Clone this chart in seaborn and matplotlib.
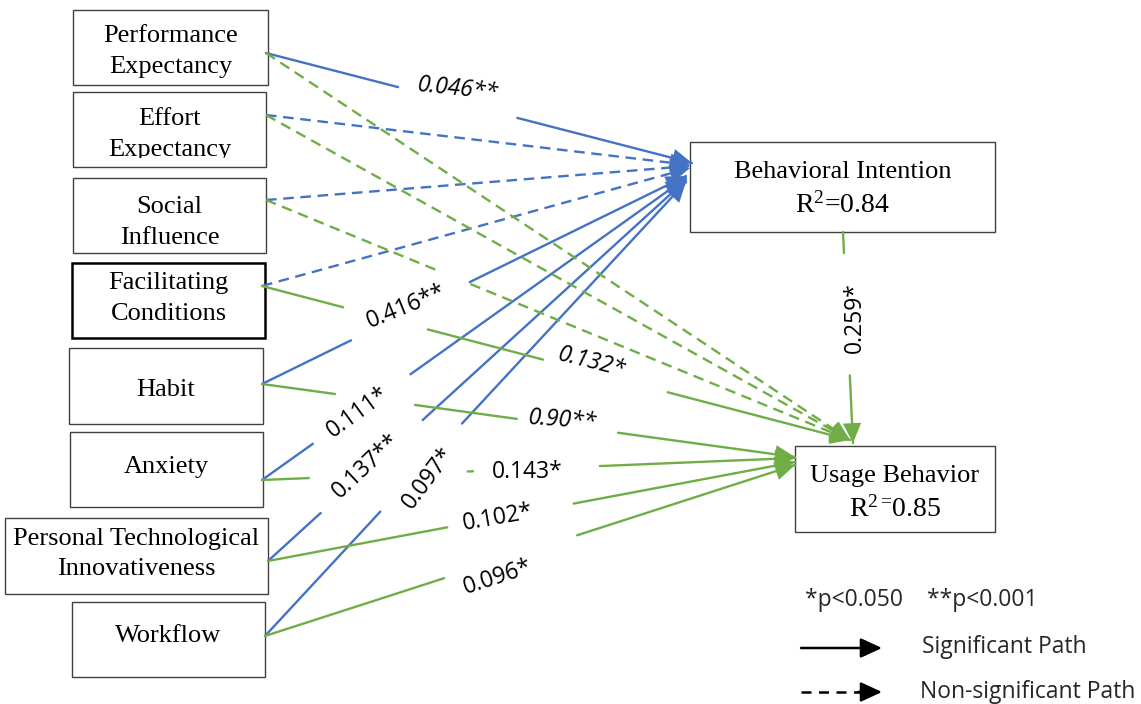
import numpy as np
import pandas as pd
import matplotlib.pyplot as plt
import seaborn as sns
from matplotlib.patches import Rectangle

sns.set_theme(style="white")
plt.rcParams['font.family'] = ['Open Sans', 'DejaVu Sans']
plt.rcParams['mathtext.fontset'] = 'custom'
plt.rcParams['mathtext.rm'] = 'Liberation Serif'
plt.rcParams['mathtext.it'] = 'Liberation Serif:italic'

# ---- model data ----
predictors = ['PE', 'EE', 'SI', 'FC', 'HB', 'AX', 'PTI', 'WF']
predictor_names = ['Performance\nExpectancy', 'Effort\nExpectancy', 'Social\nInfluence',
                   'Facilitating\nConditions', 'Habit', 'Anxiety',
                   'Personal Technological\nInnovativeness', 'Workflow']
bi_coef = ['0.046**', None, None, None, '0.416**', '0.111*', '0.137**', '0.097*']
bi_significant = [True, False, False, False, True, True, True, True]
ub_coef = [None, None, None, '0.132*', '0.90**', '0.143*', '0.102*', '0.096*']
ub_significant = [False, False, False, True, True, True, True, True]
bi_to_ub_coef = '0.259*'
r2_bi = '0.84'
r2_ub = '0.85'

BLUE = '#4472C4'
GREEN = '#70AD47'

# ---- layout (pixel space) ----
boxes = {'PE': (73, 10, 268, 85), 'EE': (73, 92, 266, 167), 'SI': (73, 178, 266, 253),
         'FC': (72, 263, 265, 338), 'HB': (69, 348, 263, 424), 'AX': (70, 432, 263, 507),
         'PTI': (5, 518, 268, 594), 'WF': (72, 602, 265, 677),
         'BI': (690, 142, 995, 232), 'UB': (795, 446, 995, 532)}
text_shift = {'PE': 4, 'EE': 5, 'SI': 7, 'FC': -2, 'HB': 4, 'AX': -3, 'PTI': -2, 'WF': -4}
ports = {'PE': (266, 53), 'EE': (266, 115), 'SI': (266, 200), 'FC': (262, 286),
         'HB': (262, 384), 'AX': (262, 480), 'PTI': (268, 561), 'WF': (265, 636),
         'BI': (843, 232)}
bi_tips = {'PE': (692, 163), 'EE': (690, 165), 'SI': (690, 166), 'FC': (690, 168),
           'HB': (686, 176), 'AX': (686, 178), 'PTI': (686, 180), 'WF': (686, 182)}
ub_tips = {'PE': (850, 440), 'EE': (850, 440), 'SI': (850, 440), 'FC': (850, 440),
           'HB': (795, 457), 'AX': (795, 458), 'PTI': (795, 462), 'WF': (795, 465),
           'BI': (853, 443)}
gaps = {('PE', 'BI'): [(0.31, 0.59)], ('HB', 'BI'): [(0.21, 0.49)],
        ('AX', 'BI'): [(0.12, 0.35)], ('PTI', 'BI'): [(0.126, 0.37)],
        ('WF', 'BI'): [(0.274, 0.468)],
        ('SI', 'UB'): [(0.30, 0.35)],
        ('FC', 'UB'): [(0.138, 0.282), (0.478, 0.69)],
        ('HB', 'UB'): [(0.137, 0.287), (0.478, 0.668)],
        ('AX', 'UB'): [(0.088, 0.386), (0.396, 0.634)],
        ('PTI', 'UB'): [(0.34, 0.58)], ('WF', 'UB'): [(0.338, 0.589)],
        ('BI', 'UB'): [(0.10, 0.68)]}
label_pos = {('PE', 'BI'): (458, 89, -6, True), ('HB', 'BI'): (406, 307, 22, False),
             ('AX', 'BI'): (358, 412, 36, False), ('PTI', 'BI'): (366, 466, 43, False),
             ('WF', 'BI'): (428, 478, 53, False),
             ('FC', 'UB'): (591, 362, -14, True), ('HB', 'UB'): (562, 420, -4, True),
             ('AX', 'UB'): (527, 472, 0, False), ('PTI', 'UB'): (498, 518, 10, False),
             ('WF', 'UB'): (498, 577, 18, False), ('BI', 'UB'): (855, 318, 90, False)}

# ---- build edges ----
edges = []
for k, c, s in zip(predictors, bi_coef, bi_significant):
    edges.append((k, 'BI', c, s, bi_tips[k]))
for k, c, s in zip(predictors, ub_coef, ub_significant):
    edges.append((k, 'UB', c, s, ub_tips[k]))
edges.append(('BI', 'UB', bi_to_ub_coef, True, ub_tips['BI']))

rows = []
seg_id = 0
for src, tgt, coef, sig, tip in edges:
    p0 = np.array(ports[src], float)
    p1 = np.array(tip, float)
    cuts = [0.0]
    for a, b in gaps.get((src, tgt), []):
        cuts += [a, b]
    cuts.append(1.0)
    for a, b in zip(cuts[::2], cuts[1::2]):
        for t in (a, b):
            x, y = p0 + t * (p1 - p0)
            rows.append({'seg': seg_id, 'x': x, 'y': y, 'target': tgt,
                         'path': 'sig' if sig else 'ns'})
        seg_id += 1
df = pd.DataFrame(rows)

fig = plt.figure(figsize=(11.41, 7.04), dpi=100)
ax = fig.add_axes([0, 0, 1, 1])

sns.lineplot(data=df, x='x', y='y', hue='target', style='path', units='seg',
             estimator=None, sort=False, palette={'BI': BLUE, 'UB': GREEN},
             dashes={'sig': '', 'ns': (4.5, 2.8)}, linewidth=1.7, legend=False, ax=ax)

# arrow heads
for src, tgt, coef, sig, tip in edges:
    p0 = np.array(ports[src], float)
    p1 = np.array(tip, float)
    u = (p1 - p0) / np.linalg.norm(p1 - p0)
    color = BLUE if tgt == 'BI' else GREEN
    ax.annotate('', xy=tuple(p1), xytext=tuple(p1 - 20 * u),
                arrowprops=dict(arrowstyle='-|>,head_length=0.65,head_width=0.3',
                                mutation_scale=22, color=color, lw=0,
                                shrinkA=0, shrinkB=0))

# path coefficients
for src, tgt, coef, sig, tip in edges:
    if coef is None:
        continue
    x, y, rot, ital = label_pos[(src, tgt)]
    ax.text(x, y, coef, fontsize=16.5, rotation=rot, ha='center', va='center',
            style='italic' if ital else 'normal', rotation_mode='anchor', color='black')

# construct boxes
for k, name in zip(predictors, predictor_names):
    x0, y0, x1, y1 = boxes[k]
    lw = 1.8 if k == 'FC' else 1.0
    ec = 'black' if k == 'FC' else '#404040'
    ax.add_patch(Rectangle((x0, y0), x1 - x0, y1 - y0, fill=False, lw=lw, ec=ec))
    t = ax.text((x0 + x1) / 2, (y0 + y1) / 2 + text_shift[k], name,
                family='Liberation Serif', fontsize=19, ha='center', va='center',
                linespacing=1.5, color='black')
    if k == 'EE':
        # second line is cut off at the bottom in the original figure
        clip = Rectangle((x0, y0), x1 - x0, 66, transform=ax.transData)
        t.set_clip_on(True)
        t.set_clip_path(clip)

for k, title, r2 in [('BI', 'Behavioral Intention', r'R$^{2}$=' + r2_bi),
                     ('UB', 'Usage Behavior', r'R$^{2=}\!$' + r2_ub)]:
    x0, y0, x1, y1 = boxes[k]
    ax.add_patch(Rectangle((x0, y0), x1 - x0, y1 - y0, fill=False, lw=1.0, ec='#404040'))
    cx = (x0 + x1) / 2
    ax.text(cx, y0 + 30, title, family='Liberation Serif', fontsize=19,
            ha='center', va='center', color='black')
    ax.text(cx, y0 + 63, r2, family='Liberation Serif', fontsize=20,
            ha='center', va='center', color='black')

# legend
ax.text(805, 600, '*p<0.050    **p<0.001', fontsize=16.5, ha='left', va='center')
ax.text(922, 647, 'Significant Path', fontsize=16.5, ha='left', va='center')
ax.text(920, 692, 'Non-significant Path', fontsize=16.5, ha='left', va='center')
ax.annotate('', xy=(882, 648), xytext=(801, 648),
            arrowprops=dict(arrowstyle='-|>,head_length=0.65,head_width=0.3',
                            mutation_scale=20, color='black', lw=1.8,
                            shrinkA=0, shrinkB=0))
ax.plot([801, 862], [692, 692], color='black', lw=1.8, ls=(0, (4, 3)))
ax.annotate('', xy=(882, 692), xytext=(858, 692),
            arrowprops=dict(arrowstyle='-|>,head_length=0.65,head_width=0.3',
                            mutation_scale=20, color='black', lw=1.8,
                            shrinkA=0, shrinkB=0))

ax.set_xlim(0, 1141)
ax.set_ylim(704, 0)
ax.axis('off')
fig.savefig('out.png', dpi=100, facecolor='white')
